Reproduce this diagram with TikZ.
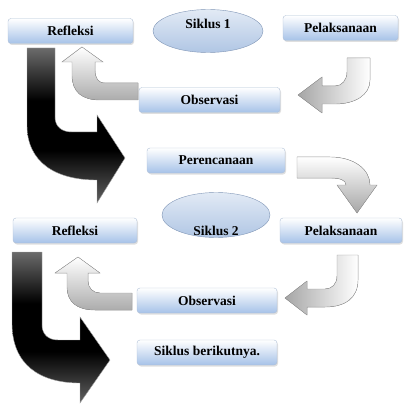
\documentclass[tikz,border=0pt]{standalone}
\usepackage{fontspec}
\setmainfont{Liberation Serif}
\usetikzlibrary{shadows}
\usetikzlibrary{shapes.geometric}
\usepackage{xcolor}
\definecolor{boxblue}{RGB}{166,194,232}
\definecolor{boxline}{RGB}{176,192,214}
\definecolor{ovaltop}{RGB}{226,234,245}
\definecolor{ovalblue}{RGB}{176,198,228}
\definecolor{ovalline}{RGB}{128,150,182}
\pgfdeclareverticalshading{darkbend}{100bp}{color(0bp)=(black!62); color(25bp)=(black!62); color(42bp)=(black); color(58bp)=(black); color(75bp)=(black!58); color(100bp)=(black!58)}

\begin{document}
\begin{tikzpicture}[x=1pt,y=-1pt,
 box/.style={draw=boxline, rounded corners=3pt, top color=white, bottom color=boxblue, inner sep=0pt, minimum height=25pt, font=\fontsize{13.5}{15}\selectfont\bfseries, drop shadow={opacity=.25, shadow xshift=1pt, shadow yshift=-1.5pt}},
 oval/.style={ellipse, draw=ovalline, top color=ovaltop, bottom color=ovalblue, inner sep=0pt},
 ovaltext/.style={inner sep=0pt, font=\fontsize{13.5}{15}\selectfont\bfseries},
 darkarrow/.style={draw=gray!70, shading=darkbend},
 uparrow/.style={draw=gray!80, top color=white, bottom color=gray!65},
 backarrow/.style={draw=gray!80, left color=gray!70, right color=white},
 downarrow/.style={draw=gray!80, top color=white, bottom color=gray!70}]
\useasboundingbox (0,0) rectangle (409,406);

% cycle 1
\node[box, minimum width=125pt] (refl1) at (70.5,31) {Refleksi};
\node[oval, minimum width=110pt, minimum height=43pt] (siklus1) at (208,31) {};
\node[ovaltext] (s1text) at (208,24) {Siklus 1};
\node[box, minimum width=115pt] (pelak1) at (340.5,28) {Pelaksanaan};
\node[box, minimum width=141pt] (obs1) at (209.5,100) {Observasi};
\node[box, minimum width=138pt] (renc) at (216,160.5) {Perencanaan};

\fill[backarrow] (347,58) -- (370,58) -- (370,80) .. controls (370,95) and (355,104) .. (335,104) -- (322,104) -- (322,113) -- (298,95) -- (322,77) -- (322,86) -- (335,86) .. controls (342,86) and (347,80) .. (347,72) -- cycle;
\fill[uparrow] (138,83) -- (105,83) .. controls (98,83) and (95,78) .. (95,70) -- (95,62) -- (103,62) -- (82,47) -- (62,62) -- (72,62) -- (72,75) .. controls (72,92) and (82,100) .. (100,100) -- (138,100) -- cycle;
\shade[darkarrow] (27,48) -- (55,48) -- (55,117) .. controls (55,126) and (61,132) .. (72,132) -- (97,132) -- (97,115) -- (125,158) -- (97,203) -- (97,180) .. controls (55,180) and (27,162) .. (27,125) -- cycle;
\fill[downarrow] (297,157) -- (330,157) .. controls (355,157) and (370,170) .. (370,185) -- (377,185) -- (357,213) -- (337,185) -- (346,185) .. controls (346,180) and (340,178) .. (330,178) -- (297,178) -- cycle;

% cycle 2
\node[box, minimum width=124pt] (refl2) at (75,230.5) {Refleksi};
\node[oval, minimum width=108pt, minimum height=45pt] (siklus2) at (216,215) {};
\node[ovaltext] (s2text) at (216,231) {Siklus 2};
\node[box, minimum width=122pt] (pelak2) at (341,230.5) {Pelaksanaan};
\node[box, minimum width=140pt] (obs2) at (207,300.5) {Observasi};
\node[box, minimum width=140pt] (next) at (207,352.5) {Siklus berikutnya.};

\fill[backarrow] (337,255) -- (358,255) -- (358,280) .. controls (358,298) and (345,307) .. (325,307) -- (307,307) -- (307,315) -- (285,298) -- (307,281) -- (307,289) -- (325,289) .. controls (332,289) and (337,284) .. (337,276) -- cycle;
\fill[uparrow] (132,293) -- (100,293) .. controls (93,293) and (88,288) .. (88,281) -- (88,273) -- (100,273) -- (78,257) -- (55,273) -- (67,273) -- (67,287) .. controls (67,302) and (77,310) .. (95,310) -- (132,310) -- cycle;
\shade[darkarrow] (12,252) -- (42,252) -- (42,325) .. controls (42,334) and (48,340) .. (58,340) -- (80,340) -- (80,317) -- (110,360) -- (80,403) -- (80,383) .. controls (40,383) and (12,365) .. (12,323) -- cycle;
\end{tikzpicture}
\end{document}
